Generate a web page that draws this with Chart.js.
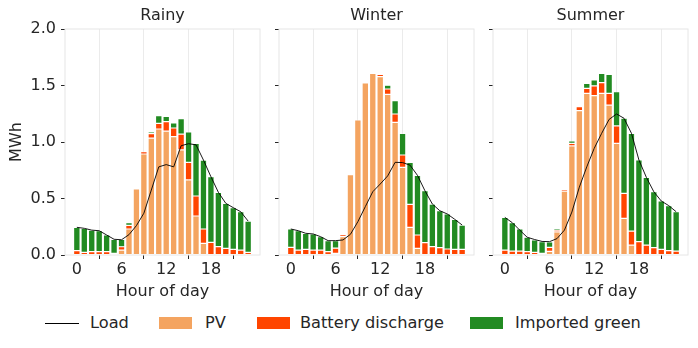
<!DOCTYPE html>
<html>
<head>
<meta charset="utf-8">
<script src="https://cdn.jsdelivr.net/npm/chart.js@4.4.1/dist/chart.umd.min.js"></script>
<style>
    html, body { margin: 0; padding: 0; background: #fff; }
    #wrap { position: relative; width: 698px; height: 348px; font-family: 'DejaVu Sans', sans-serif; color: #262626; }
    .panel { position: absolute; top: 0; height: 305px; }
    .legend-item { position: absolute; }
    .legend-text { position: absolute; top: 313px; font-size: 16.2px; line-height: 20px; white-space: nowrap; }
</style>
</head>
<body>
<div id="wrap">
    <div class="panel" style="left:0px;width:262px"><canvas id="rainy"></canvas></div>
    <div class="panel" style="left:265px;width:212px"><canvas id="winter"></canvas></div>
    <div class="panel" style="left:479px;width:212px"><canvas id="summer"></canvas></div>

    <div class="legend-item" style="left:45px;top:323px;width:34px;height:1px;background:#000"></div>
    <div class="legend-text" style="left:90px">Load</div>
    <div class="legend-item" style="left:159px;top:317px;width:33px;height:12px;background:#f4a460"></div>
    <div class="legend-text" style="left:205px">PV</div>
    <div class="legend-item" style="left:257px;top:317px;width:33px;height:12px;background:#ff4500"></div>
    <div class="legend-text" style="left:300px">Battery discharge</div>
    <div class="legend-item" style="left:470px;top:317px;width:33px;height:12px;background:#228b22"></div>
    <div class="legend-text" style="left:515px">Imported green</div>
</div>
<script>
const hours = [0,1,2,3,4,5,6,7,8,9,10,11,12,13,14,15,16,17,18,19,20,21,22,23];
const xTicks = [0, 6, 12, 18];
const yTicks = [0, 0.5, 1.0, 1.5, 2.0];

// Rainy
const rainyPV = [0,0,0,0,0,0,0.044,0.23,0.585,0.894,1.035,1.115,1.097,1.047,0.93,0.664,0.345,0.103,0,0,0,0,0,0];
const rainyBattery = [0.038,0.024,0.03,0.03,0.03,0.015,0.029,0.033,0.01,0.02,0.04,0.05,0.083,0.077,0.14,0.156,0.177,0.127,0.112,0.074,0.059,0.05,0.044,0.024];
const rainyGreen = [0.207,0.212,0.19,0.185,0.147,0.124,0.066,0.023,0.005,0.009,0.015,0.068,0.047,0.044,0.136,0.27,0.466,0.61,0.581,0.481,0.398,0.369,0.339,0.276];
const rainyLoad = [0.245,0.236,0.22,0.215,0.177,0.139,0.135,0.18,0.26,0.37,0.575,0.78,0.80,0.78,0.967,0.985,0.975,0.84,0.693,0.555,0.457,0.419,0.383,0.30];

// Winter
const winterPV = [0,0,0,0,0,0,0.015,0.162,0.71,1.195,1.523,1.608,1.578,1.422,1.174,0.776,0.245,0.059,0,0,0,0,0,0];
const winterBattery = [0.068,0.044,0.05,0.044,0.044,0.03,0.045,0.018,0.007,0.005,0.008,0.01,0.02,0.047,0.074,0.109,0.203,0.118,0.109,0.074,0.065,0.053,0.05,0.05];
const winterGreen = [0.162,0.171,0.142,0.142,0.118,0.097,0.067,0.012,0,0,0,0.008,0.01,0.033,0.118,0.192,0.372,0.528,0.46,0.377,0.327,0.31,0.266,0.215];
const winterLoad = [0.23,0.215,0.192,0.186,0.162,0.127,0.127,0.133,0.183,0.295,0.428,0.56,0.628,0.70,0.82,0.818,0.795,0.705,0.569,0.451,0.392,0.363,0.316,0.265];

// Summer
const summerPV = [0,0,0,0,0,0,0.032,0.204,0.566,0.965,1.277,1.431,1.41,1.431,1.327,0.988,0.325,0.088,0,0,0,0,0,0];
const summerBattery = [0.044,0.035,0.035,0.03,0.024,0.015,0.036,0.017,0.015,0.023,0.036,0.044,0.086,0.094,0.104,0.154,0.221,0.124,0.118,0.088,0.065,0.05,0.038,0.035];
const summerGreen = [0.289,0.251,0.195,0.127,0.109,0.103,0.047,0.015,0.009,0.021,0.008,0.044,0.053,0.083,0.168,0.303,0.664,0.865,0.723,0.599,0.495,0.428,0.399,0.348];
const summerLoad = [0.333,0.286,0.22,0.157,0.137,0.12,0.118,0.145,0.22,0.38,0.6,0.78,0.944,1.077,1.2,1.248,1.21,1.077,0.841,0.687,0.56,0.478,0.437,0.383];

const FONT = { family: "'DejaVu Sans', sans-serif", size: 16 };
const TEXT = '#262626';

// light grey frame round the plot area, and the panel title centred over it
const framePlugin = {
    id: 'frame',
    beforeDatasetsDraw(chart) {
        const a = chart.chartArea, ctx = chart.ctx;
        ctx.save();
        ctx.strokeStyle = '#e6e6e6';
        ctx.lineWidth = 1;
        ctx.strokeRect(a.left, a.top, a.right - a.left, a.bottom - a.top);
        ctx.restore();
    },
    afterDraw(chart, args, opts) {
        const a = chart.chartArea, ctx = chart.ctx;
        ctx.save();
        ctx.fillStyle = TEXT;
        ctx.font = `${FONT.size}px ${FONT.family}`;
        ctx.textAlign = 'center';
        ctx.textBaseline = 'middle';
        ctx.fillText(opts.text, (a.left + a.right) / 2, 16);
        ctx.restore();
    }
};

function pts(vals) {
    return hours.map((h, i) => ({ x: h, y: vals[i] }));
}

function makeChart(id, title, pv, bat, green, load, first) {
    const barOpts = { borderColor: 'rgba(255,255,255,0.55)', borderWidth: 0.6, borderSkipped: false,
        barPercentage: 0.88, categoryPercentage: 1.0, stack: 'supply', order: 1 };
    new Chart(document.getElementById(id), {
        type: 'bar',
        data: {
            datasets: [
                { label: 'PV', data: pts(pv), backgroundColor: '#f4a460', ...barOpts },
                { label: 'Battery discharge', data: pts(bat), backgroundColor: '#ff4500', ...barOpts },
                { label: 'Imported green', data: pts(green), backgroundColor: '#228b22', ...barOpts },
                { type: 'line', label: 'Load', data: pts(load), borderColor: '#000', borderWidth: 0.9,
                  pointRadius: 0, tension: 0, fill: false, stack: 'load', order: 0 }
            ]
        },
        plugins: [framePlugin],
        options: {
            responsive: true,
            maintainAspectRatio: false,
            animation: false,
            layout: { padding: { left: 0, right: first ? 2 : 3, top: 29, bottom: 0 } },
            plugins: {
                legend: { display: false },
                tooltip: { enabled: false },
                title: { display: false },
                frame: { text: title }
            },
            scales: {
                x: {
                    type: 'linear', min: -1.59, max: 24.59, offset: false, stacked: true,
                    afterBuildTicks: s => { s.ticks = xTicks.map(v => ({ value: v })); },
                    afterFit: s => { s.height = 50; },
                    ticks: { color: TEXT, font: FONT, padding: 1.4, maxRotation: 0 },
                    grid: { color: '#ebebeb', lineWidth: 1, tickColor: TEXT, tickLength: 4, drawTicks: true },
                    border: { display: false },
                    title: { display: true, text: 'Hour of day', color: TEXT, font: FONT,
                             padding: { top: 0, bottom: 3.4 } }
                },
                y: {
                    min: 0, max: 2, stacked: true,
                    afterBuildTicks: s => { s.ticks = yTicks.map(v => ({ value: v })); },
                    afterFit: s => { s.width = first ? 65 : 14; },
                    ticks: { color: TEXT, font: FONT, padding: 5,
                             callback: v => first ? v.toFixed(1) : '' },
                    grid: { drawOnChartArea: false, tickColor: TEXT, tickLength: 4 },
                    border: { display: false },
                    title: { display: first, text: 'MWh', color: TEXT, font: FONT,
                             padding: { top: 7.4, bottom: 0 } }
                }
            }
        }
    });
}

makeChart('rainy', 'Rainy', rainyPV, rainyBattery, rainyGreen, rainyLoad, true);
makeChart('winter', 'Winter', winterPV, winterBattery, winterGreen, winterLoad, false);
makeChart('summer', 'Summer', summerPV, summerBattery, summerGreen, summerLoad, false);
</script>
</body>
</html>
